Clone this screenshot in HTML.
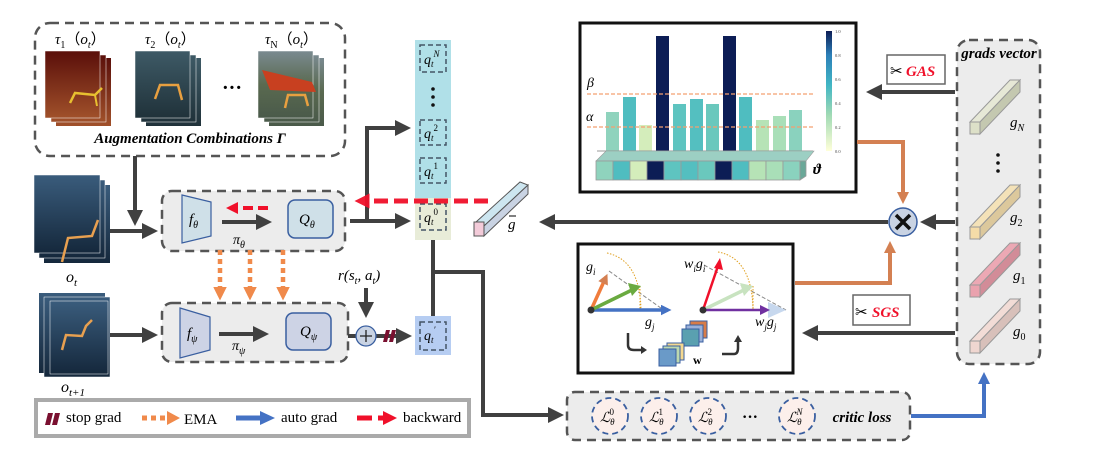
<!DOCTYPE html>
<html><head><meta charset="utf-8"><style>body{margin:0;background:#fff}svg{display:block}text{font-family:"Liberation Serif",serif}</style></head><body>
<svg width="1114" height="459" viewBox="0 0 1114 459" xmlns="http://www.w3.org/2000/svg">
<defs>
<marker id="ah" markerWidth="4" markerHeight="4" refX="2.5" refY="2" orient="auto" markerUnits="strokeWidth"><path d="M0,0L4,2L0,4z" fill="#404040"/></marker>
<marker id="ahr" markerWidth="3" markerHeight="3" refX="1.5" refY="1.5" orient="auto" markerUnits="strokeWidth"><path d="M0,0L3,1.5L0,3z" fill="#f0102a"/></marker>
<marker id="aho" markerWidth="3" markerHeight="3" refX="2" refY="1.5" orient="auto" markerUnits="strokeWidth"><path d="M0,0L3,1.5L0,3z" fill="#d48052"/></marker>
<marker id="ahe" markerWidth="3" markerHeight="3" refX="2" refY="1.5" orient="auto" markerUnits="strokeWidth"><path d="M0,0L3,1.5L0,3z" fill="#f08a4b"/></marker>
<marker id="ahb" markerWidth="3" markerHeight="3" refX="2" refY="1.5" orient="auto" markerUnits="strokeWidth"><path d="M0,0L3,1.5L0,3z" fill="#4472c4"/></marker>
<linearGradient id="gr1" x1="0" y1="0" x2="0" y2="1"><stop offset="0" stop-color="#5a0f0a"/><stop offset="1" stop-color="#a0502a"/></linearGradient>
<linearGradient id="gr2" x1="0" y1="0" x2="0" y2="1"><stop offset="0" stop-color="#3e5a66"/><stop offset="1" stop-color="#20323a"/></linearGradient>
<linearGradient id="gr3" x1="0" y1="0" x2="0" y2="1"><stop offset="0" stop-color="#7a8a90"/><stop offset="0.5" stop-color="#5a6a50"/><stop offset="1" stop-color="#4a5a4a"/></linearGradient>
<linearGradient id="gr4" x1="0" y1="0" x2="0" y2="1"><stop offset="0" stop-color="#3a5c7c"/><stop offset="1" stop-color="#15283c"/></linearGradient>
</defs>

<rect x="35" y="23" width="310" height="133" rx="15" fill="none" stroke="#555" stroke-width="2.5" stroke-dasharray="9,6"/>
<text x="55" y="44" font-size="15"><tspan font-style="italic">τ</tspan><tspan font-size="10" dy="4">1</tspan><tspan dy="-4">（</tspan><tspan font-style="italic">o</tspan><tspan font-size="10" dy="4" font-style="italic">t</tspan><tspan dy="-4">）</tspan></text>
<text x="145" y="44" font-size="15"><tspan font-style="italic">τ</tspan><tspan font-size="10" dy="4">2</tspan><tspan dy="-4">（</tspan><tspan font-style="italic">o</tspan><tspan font-size="10" dy="4" font-style="italic">t</tspan><tspan dy="-4">）</tspan></text>
<text x="265" y="44" font-size="15"><tspan font-style="italic">τ</tspan><tspan font-size="10" dy="4">N</tspan><tspan dy="-4">（</tspan><tspan font-style="italic">o</tspan><tspan font-size="10" dy="4" font-style="italic">t</tspan><tspan dy="-4">）</tspan></text>
<g>
<rect x="56" y="58" width="55" height="68" fill="url(#gr1)"/><rect x="51" y="55" width="55" height="67" fill="url(#gr1)" stroke="#fff" stroke-width="0.5"/><rect x="45" y="51" width="55" height="67" fill="url(#gr1)" stroke="#fff" stroke-width="0.5"/>
<polyline points="70,103 75,93 95,95 102,88" fill="none" stroke="#e8c030" stroke-width="2.5"/><line x1="95" y1="95" x2="97" y2="106" stroke="#e8c030" stroke-width="2"/>
<rect x="146" y="58" width="55" height="68" fill="url(#gr2)"/><rect x="141" y="55" width="55" height="67" fill="url(#gr2)" stroke="#fff" stroke-width="0.5"/><rect x="135" y="51" width="55" height="67" fill="url(#gr2)" stroke="#fff" stroke-width="0.5"/>
<polyline points="155,99 160,85 178,85 182,100" fill="none" stroke="#e8a040" stroke-width="2.5"/>
<text x="222" y="94" font-size="20" font-weight="bold">···</text>
<rect x="269" y="58" width="55" height="68" fill="url(#gr3)"/><rect x="264" y="55" width="55" height="67" fill="url(#gr3)" stroke="#fff" stroke-width="0.5"/><rect x="258" y="51" width="55" height="67" fill="url(#gr3)" stroke="#fff" stroke-width="0.5"/>
<path d="M262,70 L312,82 L316,92 L270,90 Z" fill="#c84020"/><polyline points="285,108 288,95 305,95 308,106" fill="none" stroke="#e8a040" stroke-width="2.5"/>
</g>
<text x="190" y="143" font-size="15" font-weight="bold" font-style="italic" text-anchor="middle">Augmentation Combinations Γ</text>

<line x1="135" y1="156" x2="135" y2="220" stroke="#404040" stroke-width="4" marker-end="url(#ah)"/>
<rect x="44" y="185" width="66" height="78" fill="url(#gr4)"/><rect x="39" y="180" width="66" height="78" fill="url(#gr4)" stroke="#fff" stroke-width="0.5"/><rect x="34" y="175" width="66" height="78" fill="url(#gr4)" stroke="#fff" stroke-width="0.5"/>
<polyline points="62,262 68,238 92,236 98,220" fill="none" stroke="#e8a050" stroke-width="2.5"/>
<text x="66" y="282" font-size="16" font-style="italic">o<tspan font-size="11" dy="4">t</tspan></text>
<line x1="110" y1="231" x2="152" y2="231" stroke="#404040" stroke-width="4" marker-end="url(#ah)"/>

<rect x="162" y="191" width="183" height="60" rx="10" fill="#ececec" stroke="#555" stroke-width="2.5" stroke-dasharray="9,6"/>
<path d="M182,195 L211,202 L211,236 L182,243 Z" fill="#cfe0e8" stroke="#3a5fa0" stroke-width="1.2"/>
<text x="189" y="224" font-size="15" font-style="italic">f<tspan font-size="10" dy="4">θ</tspan></text>
<rect x="288" y="200" width="45" height="38" rx="7" fill="#cfe0e8" stroke="#3a5fa0" stroke-width="1.5"/>
<text x="299" y="224" font-size="15" font-style="italic">Q<tspan font-size="10" dy="4">θ</tspan></text>
<line x1="222" y1="222" x2="266" y2="222" stroke="#404040" stroke-width="4" marker-end="url(#ah)"/>
<text x="233" y="244" font-size="14" font-style="italic">π<tspan font-size="10" dy="4">θ</tspan></text>
<line x1="268" y1="208" x2="232" y2="208" stroke="#f0102a" stroke-width="4" stroke-dasharray="10,5" marker-end="url(#ahr)"/>

<line x1="350" y1="221" x2="405" y2="221" stroke="#404040" stroke-width="4" marker-end="url(#ah)"/>
<polyline points="367,221 367,128 405,128" fill="none" stroke="#404040" stroke-width="4" marker-end="url(#ah)"/>

<rect x="415" y="40" width="36" height="158" fill="#b0e0e8"/>
<rect x="415" y="198" width="36" height="42" fill="#e8ecd8"/>
<g fill="none" stroke="#456" stroke-width="1.5" stroke-dasharray="5,3">
<rect x="420" y="45" width="26" height="27"/><rect x="420" y="120" width="26" height="25"/><rect x="420" y="158" width="26" height="25"/><rect x="420" y="204" width="26" height="26"/></g>
<g font-size="14" font-style="italic"><text x="424" y="64">q<tspan font-size="9" dy="3">t</tspan><tspan font-size="9" dy="-10">N</tspan></text>
<text x="424" y="138">q<tspan font-size="9" dy="3">t</tspan><tspan font-size="9" dy="-10" font-style="normal">2</tspan></text>
<text x="424" y="176">q<tspan font-size="9" dy="3">t</tspan><tspan font-size="9" dy="-10" font-style="normal">1</tspan></text>
<text x="424" y="222">q<tspan font-size="9" dy="3">t</tspan><tspan font-size="9" dy="-10" font-style="normal">0</tspan></text></g>
<circle cx="433" cy="89" r="1.8" fill="#111"/><circle cx="433" cy="97" r="1.8" fill="#111"/><circle cx="433" cy="105" r="1.8" fill="#111"/>
<line x1="488" y1="201" x2="362" y2="201" stroke="#f0102a" stroke-width="5" stroke-dasharray="14,6" marker-end="url(#ahr)" opacity="0.95"/>

<path d="M476,222 L520,182 L528,185 L484,226 Z" fill="#cde6f0" stroke="#555" stroke-width="1"/>
<path d="M484,226 L528,185 L528,194 L484,236 Z" fill="#c9d3e3" stroke="#555" stroke-width="1"/>
<rect x="474" y="222" width="10" height="14" fill="#f3cbd9" stroke="#555" stroke-width="1"/>
<text x="508" y="229" font-size="15" font-style="italic">g</text><line x1="509" y1="216" x2="516" y2="216" stroke="#000" stroke-width="1"/>
<line x1="888" y1="222" x2="545" y2="222" stroke="#404040" stroke-width="4" marker-end="url(#ah)"/>

<rect x="580" y="23" width="276" height="169" fill="#fff" stroke="#111" stroke-width="3"/>
<g>
<rect x="606" y="112" width="13" height="39" fill="#8fd3bd"/><rect x="623" y="97" width="13" height="54" fill="#4fbdc0"/><rect x="639" y="125" width="13" height="26" fill="#d4edbb"/><rect x="656" y="36" width="13" height="115" fill="#0c1d55"/><rect x="673" y="104" width="13" height="47" fill="#5ec4c0"/><rect x="690" y="99" width="13" height="52" fill="#54bfc0"/><rect x="706" y="104" width="13" height="47" fill="#6ac8bd"/><rect x="723" y="36" width="13" height="115" fill="#0c1d55"/><rect x="739" y="97" width="13" height="54" fill="#4fbdc0"/><rect x="756" y="120" width="13" height="31" fill="#b6e3b6"/><rect x="773" y="116" width="13" height="35" fill="#a9dfb8"/><rect x="789" y="110" width="13" height="41" fill="#8ad2be"/>
</g>
<line x1="587" y1="94" x2="815" y2="94" stroke="#f4a070" stroke-width="1.3" stroke-dasharray="4,2"/>
<line x1="587" y1="127" x2="815" y2="127" stroke="#f4a070" stroke-width="1.3" stroke-dasharray="4,2"/>
<text x="587" y="87" font-size="14" font-style="italic">β</text><text x="586" y="121" font-size="14" font-style="italic">α</text>
<line x1="597" y1="151" x2="813" y2="151" stroke="#999" stroke-width="1"/>
<path d="M596,161 L606,151 L814,151 L806,161 Z" fill="#9ccfc3" stroke="#999" stroke-width="0.6"/>
<g stroke="#999" stroke-width="0.8">
<rect x="596" y="161" width="17" height="19" fill="#8fd3bd"/><rect x="613" y="161" width="17" height="19" fill="#4fbdc0"/><rect x="630" y="161" width="17" height="19" fill="#d4edbb"/><rect x="647" y="161" width="17" height="19" fill="#0c1d55"/><rect x="664" y="161" width="17" height="19" fill="#5ec4c0"/><rect x="681" y="161" width="17" height="19" fill="#54bfc0"/><rect x="698" y="161" width="17" height="19" fill="#6ac8bd"/><rect x="715" y="161" width="17" height="19" fill="#0c1d55"/><rect x="732" y="161" width="17" height="19" fill="#4fbdc0"/><rect x="749" y="161" width="17" height="19" fill="#b6e3b6"/><rect x="766" y="161" width="17" height="19" fill="#a9dfb8"/><rect x="783" y="161" width="17" height="19" fill="#8ad2be"/>
<path d="M800,161 L806,161 L806,176 L800,180 Z" fill="#6aa898"/></g>
<text x="813" y="174" font-size="15" font-weight="bold" font-style="italic">ϑ</text>
<defs><linearGradient id="cb" x1="0" y1="1" x2="0" y2="0"><stop offset="0" stop-color="#ffffd9"/><stop offset="0.3" stop-color="#a1dab4"/><stop offset="0.55" stop-color="#41b6c4"/><stop offset="0.8" stop-color="#2c7fb8"/><stop offset="1" stop-color="#0c1d55"/></linearGradient></defs>
<rect x="826" y="31" width="6" height="120" fill="url(#cb)"/>
<g font-size="4.5" font-family="Liberation Sans" fill="#444"><text x="835" y="33">1.0</text><text x="835" y="57">0.8</text><text x="835" y="81">0.6</text><text x="835" y="105">0.4</text><text x="835" y="129">0.2</text><text x="835" y="153">0.0</text></g>

<polyline points="857,142 903,142 903,200" fill="none" stroke="#d48052" stroke-width="4" marker-end="url(#aho)"/>
<polyline points="795,283 890,283 890,245" fill="none" stroke="#d48052" stroke-width="4" marker-end="url(#aho)"/>
<circle cx="903" cy="222" r="14" fill="#c9d3e3" stroke="#3a5fa0" stroke-width="1.5"/>
<path d="M896,215 L910,229 M910,215 L896,229" stroke="#111" stroke-width="3.5"/>
<line x1="955" y1="222" x2="926" y2="222" stroke="#404040" stroke-width="4" marker-end="url(#ah)"/>

<rect x="887" y="55" width="58" height="29" fill="#fff" stroke="#666" stroke-width="1.5"/>
<text x="890" y="76" font-size="15">✂</text>
<text x="906" y="76" font-size="15" font-weight="bold" font-style="italic" fill="#f0102a">GAS</text>
<line x1="955" y1="92" x2="872" y2="92" stroke="#404040" stroke-width="4" marker-end="url(#ah)"/>

<rect x="957" y="40" width="83" height="324" rx="12" fill="#ececec" stroke="#555" stroke-width="2.5" stroke-dasharray="9,6"/>
<text x="999" y="58" font-size="15" font-weight="bold" font-style="italic" text-anchor="middle">grads vector</text>
<g stroke="#999" stroke-width="1">
<path d="M970,122 L1010,80 L1020,80 L980,122 Z" fill="#e6e8d6"/><path d="M980,122 L1020,80 L1020,92 L980,134 Z" fill="#c4c8b0"/><rect x="970" y="122" width="10" height="12" fill="#dde0c8"/>
<path d="M970,227 L1010,185 L1020,185 L980,227 Z" fill="#f4e2b8"/><path d="M980,227 L1020,185 L1020,197 L980,239 Z" fill="#dcc89c"/><rect x="970" y="227" width="10" height="12" fill="#f5dca8"/>
<path d="M970,285 L1010,243 L1020,243 L980,285 Z" fill="#eca8b4"/><path d="M980,285 L1020,243 L1020,255 L980,297 Z" fill="#d28c98"/><rect x="970" y="285" width="10" height="12" fill="#eaa2ae"/>
<path d="M970,341 L1010,299 L1020,299 L980,341 Z" fill="#f2dcd6"/><path d="M980,341 L1020,299 L1020,311 L980,353 Z" fill="#d8c0ba"/><rect x="970" y="341" width="10" height="12" fill="#efd6d0"/>
</g>
<g font-size="15" font-style="italic"><text x="1010" y="127">g<tspan font-size="10" dy="4">N</tspan></text><text x="1010" y="222">g<tspan font-size="10" dy="4" font-style="normal">2</tspan></text><text x="1013" y="280">g<tspan font-size="10" dy="4" font-style="normal">1</tspan></text><text x="1013" y="336">g<tspan font-size="10" dy="4" font-style="normal">0</tspan></text></g>
<circle cx="998" cy="155" r="1.8" fill="#111"/><circle cx="998" cy="163" r="1.8" fill="#111"/><circle cx="998" cy="171" r="1.8" fill="#111"/>

<rect x="853" y="295" width="57" height="30" fill="#fff" stroke="#666" stroke-width="1.5"/>
<text x="855" y="317" font-size="15">✂</text>
<text x="872" y="317" font-size="15" font-weight="bold" font-style="italic" fill="#f0102a">SGS</text>
<line x1="955" y1="333" x2="808" y2="333" stroke="#404040" stroke-width="4" marker-end="url(#ah)"/>

<rect x="578" y="244" width="215" height="129" fill="#fff" stroke="#111" stroke-width="3"/>
<line x1="609" y1="271" x2="665" y2="311" stroke="#888" stroke-width="1" stroke-dasharray="4,2"/>
<path d="M607,253 Q640,260 641,310" fill="none" stroke="#e0a020" stroke-width="1" stroke-dasharray="1.5,1.5"/>
<line x1="640" y1="286" x2="640" y2="310" stroke="#e0a020" stroke-width="1" stroke-dasharray="1.5,1.5"/>
<line x1="591" y1="310" x2="668" y2="310" stroke="#4472c4" stroke-width="3.5" marker-end="url(#ahb)"/>
<line x1="591" y1="310" x2="606" y2="277" stroke="#f07c3c" stroke-width="3.5" marker-end="url(#aho)"/>
<line x1="591" y1="310" x2="634" y2="289" stroke="#6aaa40" stroke-width="3.5"/><path d="M628,283 L641,286 L632,296 Z" fill="#6aaa40"/>
<circle cx="591" cy="310" r="3.5" fill="#333"/>
<text x="586" y="271" font-size="14" font-style="italic">g<tspan font-size="9" dy="4">i</tspan></text>
<text x="645" y="326" font-size="14" font-style="italic">g<tspan font-size="9" dy="4">j</tspan></text>
<line x1="704" y1="265" x2="786" y2="310" stroke="#888" stroke-width="1" stroke-dasharray="4,2"/>
<path d="M718,252 Q752,258 753,310" fill="none" stroke="#e0a020" stroke-width="1" stroke-dasharray="1.5,1.5"/>
<line x1="753" y1="286" x2="753" y2="310" stroke="#e0a020" stroke-width="1" stroke-dasharray="1.5,1.5"/>
<path d="M768,302 L786,310 L768,318 Z" fill="#c7d8ee"/>
<line x1="703" y1="310" x2="746" y2="289" stroke="#c8e3c0" stroke-width="3.5"/><path d="M740,283 L753,286 L744,296 Z" fill="#c8e3c0"/>
<line x1="703" y1="310" x2="762" y2="310" stroke="#7030a0" stroke-width="2.5"/><path d="M760,305 L770,310 L760,315 Z" fill="#7030a0"/>
<line x1="703" y1="310" x2="718" y2="266" stroke="#f0102a" stroke-width="2.5"/><path d="M714,268 L720,258 L723,270 Z" fill="#f0102a"/>
<circle cx="703" cy="310" r="3.5" fill="#333"/>
<text x="684" y="268" font-size="14" font-style="italic">w<tspan font-size="9" dy="4">i</tspan><tspan dy="-4">g</tspan><tspan font-size="9" dy="4">i</tspan></text>
<text x="755" y="326" font-size="14" font-style="italic">w<tspan font-size="9" dy="4">j</tspan><tspan dy="-4">g</tspan><tspan font-size="9" dy="4">j</tspan></text>
<path d="M628,333 L628,345 Q628,350 634,350 L642,350" fill="none" stroke="#333" stroke-width="2.5"/><path d="M641,346 L647,350 L641,354Z" fill="#333"/>
<path d="M722,354 L734,354 Q738,354 738,348 L738,340" fill="none" stroke="#333" stroke-width="2.5"/><path d="M734,342 L738,335 L742,342Z" fill="#333"/>
<g stroke="#3a5fa0" stroke-width="1"><rect x="690" y="321" width="17" height="17" fill="#d87c48"/><rect x="686" y="325" width="17" height="17" fill="#9ab0d8"/><rect x="682" y="329" width="17" height="17" fill="#5aa0b0"/>
<rect x="667" y="343" width="17" height="17" fill="#f4d890"/><rect x="663" y="346" width="17" height="17" fill="#bcd8b0"/><rect x="659" y="349" width="17" height="17" fill="#6a9ac8"/></g>
<text x="693" y="364" font-size="12" font-weight="bold">w</text>

<rect x="567" y="392" width="343" height="48" rx="8" fill="#ececec" stroke="#555" stroke-width="2.5" stroke-dasharray="9,6"/>
<g fill="#fcefeb" stroke="#3a5fa0" stroke-width="1.8" stroke-dasharray="6,4">
<circle cx="610" cy="416" r="18"/><circle cx="659" cy="416" r="18"/><circle cx="708" cy="416" r="18"/><circle cx="797" cy="416" r="18"/></g>
<g font-size="14" font-style="italic"><text x="600" y="422">ℒ<tspan font-size="9" dy="3">θ</tspan><tspan font-size="9" dy="-10" font-style="normal" dx="-5">0</tspan></text>
<text x="649" y="422">ℒ<tspan font-size="9" dy="3">θ</tspan><tspan font-size="9" dy="-10" font-style="normal" dx="-5">1</tspan></text>
<text x="698" y="422">ℒ<tspan font-size="9" dy="3">θ</tspan><tspan font-size="9" dy="-10" font-style="normal" dx="-5">2</tspan></text>
<text x="787" y="422">ℒ<tspan font-size="9" dy="3">θ</tspan><tspan font-size="9" dy="-10" dx="-5">N</tspan></text></g>
<text x="742" y="422" font-size="16" font-weight="bold">···</text>
<text x="862" y="422" font-size="15" font-weight="bold" font-style="italic" text-anchor="middle">critic loss</text>
<polyline points="911,416 984,416 984,376" fill="none" stroke="#4472c4" stroke-width="4" marker-end="url(#ahb)"/>

<line x1="433" y1="240" x2="433" y2="316" stroke="#404040" stroke-width="4"/>
<polyline points="433,272 483,272 483,415 558,415" fill="none" stroke="#404040" stroke-width="4" marker-end="url(#ah)"/>

<rect x="39" y="293" width="66" height="80" fill="url(#gr4)"/><rect x="44" y="297" width="66" height="80" fill="url(#gr4)" stroke="#fff" stroke-width="0.5"/><rect x="50" y="301" width="58" height="73" fill="url(#gr4)" stroke="#fff" stroke-width="0.5"/>
<polyline points="62,350 66,335 82,336 86,326 92,320" fill="none" stroke="#e8a050" stroke-width="2.5"/>
<text x="61" y="392" font-size="16" font-style="italic">o<tspan font-size="11" dy="4">t+1</tspan></text>
<line x1="110" y1="335" x2="152" y2="335" stroke="#404040" stroke-width="4" marker-end="url(#ah)"/>
<rect x="162" y="303" width="186" height="59" rx="10" fill="#ececec" stroke="#555" stroke-width="2.5" stroke-dasharray="9,6"/>
<path d="M180,308 L210,317 L210,350 L180,358 Z" fill="#cdd3e5" stroke="#3a5fa0" stroke-width="1.2"/>
<text x="187" y="338" font-size="15" font-style="italic">f<tspan font-size="10" dy="4">ψ</tspan></text>
<rect x="286" y="313" width="45" height="37" rx="7" fill="#cdd3e5" stroke="#3a5fa0" stroke-width="1.5"/>
<text x="300" y="336" font-size="15" font-style="italic">Q<tspan font-size="10" dy="4">ψ</tspan></text>
<line x1="219" y1="334" x2="263" y2="334" stroke="#404040" stroke-width="4" marker-end="url(#ah)"/>
<text x="232" y="350" font-size="14" font-style="italic">π<tspan font-size="10" dy="4">ψ</tspan></text>
<g stroke="#f08a4b" stroke-width="4.5" stroke-dasharray="5,4" fill="none">
<line x1="220" y1="250" x2="220" y2="296" marker-end="url(#ahe)"/><line x1="250" y1="250" x2="250" y2="296" marker-end="url(#ahe)"/><line x1="283" y1="250" x2="283" y2="296" marker-end="url(#ahe)"/></g>
<text x="338" y="280" font-size="15" font-style="italic">r(s<tspan font-size="10" dy="4">t</tspan><tspan dy="-4">, a</tspan><tspan font-size="10" dy="4">t</tspan><tspan dy="-4">)</tspan></text>
<line x1="366" y1="288" x2="366" y2="312" stroke="#404040" stroke-width="4" marker-end="url(#ah)"/>
<line x1="348" y1="336" x2="406" y2="336" stroke="#404040" stroke-width="4" marker-end="url(#ah)"/>
<circle cx="366" cy="336" r="10" fill="#c9d3e3" stroke="#3a5fa0" stroke-width="1.3"/>
<path d="M360,336 L372,336 M366,330 L366,342" stroke="#222" stroke-width="1.3"/>
<path d="M383,342 L386,330 L390,330 L387,342Z M389,342 L392,330 L396,330 L393,342Z" fill="#7a1030"/>
<rect x="415" y="316" width="36" height="39" fill="#b6cdf2"/>
<rect x="420" y="322" width="26" height="28" fill="none" stroke="#456" stroke-width="1.5" stroke-dasharray="5,3"/>
<text x="424" y="340" font-size="14" font-style="italic">q<tspan font-size="9" dy="3">t</tspan><tspan font-size="9" dy="-10">′</tspan></text>

<rect x="36" y="400" width="433" height="36" fill="#fff" stroke="#aaa" stroke-width="4"/>
<path d="M45,425 L48,413 L53,413 L50,425Z M52,425 L55,413 L60,413 L57,425Z" fill="#7a1030"/>
<text x="66" y="422" font-size="15">stop grad</text>
<line x1="142" y1="418" x2="167" y2="418" stroke="#f08a4b" stroke-width="5" stroke-dasharray="5,4"/><path d="M167,411 L180,418 L167,425Z" fill="#f08a4b"/>
<text x="184" y="424" font-size="15">EMA</text>
<line x1="236" y1="418" x2="260" y2="418" stroke="#4472c4" stroke-width="5"/><path d="M260,411 L275,418 L260,425Z" fill="#4472c4"/>
<text x="281" y="422" font-size="15">auto grad</text>
<line x1="357" y1="418" x2="372" y2="418" stroke="#f0102a" stroke-width="5"/><line x1="378" y1="418" x2="385" y2="418" stroke="#f0102a" stroke-width="5"/><path d="M383,411 L397,418 L383,425Z" fill="#f0102a"/>
<text x="403" y="422" font-size="15">backward</text>
</svg>
</body></html>
